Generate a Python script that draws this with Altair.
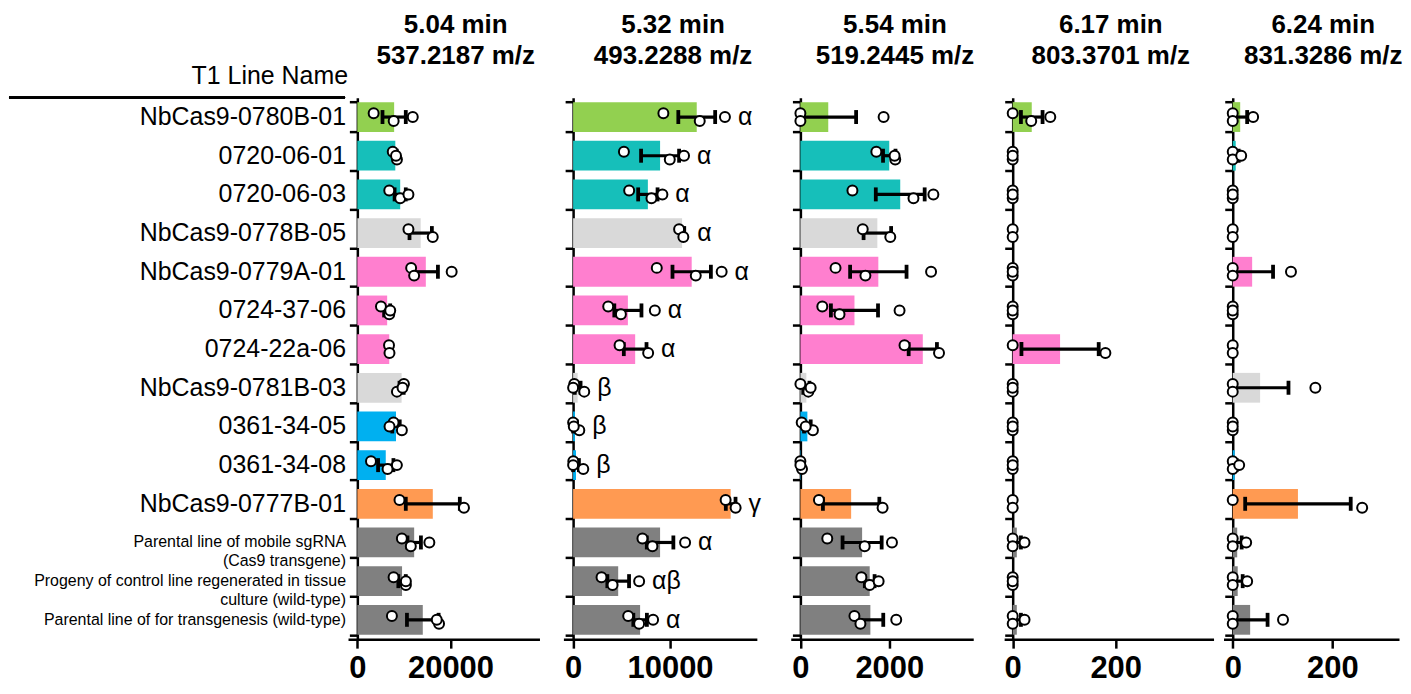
import altair as alt
import pandas as pd

FONT = "Liberation Sans, Arial, Helvetica, sans-serif"

# ---------------- data ----------------
lines = [
    "NbCas9-0780B-01", "0720-06-01", "0720-06-03", "NbCas9-0778B-05",
    "NbCas9-0779A-01", "0724-37-06", "0724-22a-06", "NbCas9-0781B-03",
    "0361-34-05", "0361-34-08", "NbCas9-0777B-01",
    "Parental line of mobile sgRNA\n(Cas9 transgene)",
    "Progeny of control line regenerated in tissue\nculture (wild-type)",
    "Parental line of for transgenesis (wild-type)",
]
groups = ["A", "B", "B", "C", "D", "D", "D", "C", "E", "E", "F", "G", "G", "G"]
group_ids = ["A", "B", "C", "D", "E", "F", "G"]
group_colors = ["#92D050", "#16BFBA", "#D9D9D9", "#FF7FCF", "#00B0F0", "#FF9A52", "#808080"]
desc_labels = lines[11:]

titles = [
    ["5.04 min", "537.2187 m/z"],
    ["5.32 min", "493.2288 m/z"],
    ["5.54 min", "519.2445 m/z"],
    ["6.17 min", "803.3701 m/z"],
    ["6.24 min", "831.3286 m/z"],
]

means1 = [7900, 8150, 9200, 13600, 14700, 6400, 6850, 9500, 8300, 6100, 16200, 12200, 9600, 14050]
sem1 = [2500, 300, 1200, 2400, 2600, 650, 150, 450, 800, 1650, 5800, 1450, 800, 3400]
pts1 = [[3500, 7800, 11900], [7600, 8500, 8300], [6850, 9200, 10970], [10970, 16190],
        [11550, 12190, 20250], [5070, 6850, 7060], [6800, 6900], [10000, 8500, 9700],
        [7780, 9560, 6910], [2930, 6490, 8490], [9050, 22890], [9560, 11480, 15460],
        [7780, 10420, 10420], [7420, 17540, 17050]]

means2 = [12750, 8970, 7710, 11240, 12230, 5650, 6400, 470, 190, 300, 16250, 8970, 4650, 6910]
sem2 = [1900, 1960, 1000, 220, 1980, 1400, 1170, 300, 200, 300, 500, 1370, 1120, 700]
pts2 = [[9310, 13060, 15660], [5240, 9970, 11440], [5780, 8080, 9210], [10930, 11370],
        [8630, 12650, 15320], [3620, 4930, 8430], [4790, 7740], [120, 1150, 0],
        [0, 640, 70], [20, 1050, 0], [15730, 16760], [7150, 8180, 11550],
        [2930, 4070, 6810], [5680, 6810, 8250]]
letters2 = ["α", "α", "α", "α", "α", "α", "α", "β", "β", "β", "γ", "α", "αβ", "α"]

means3 = [627, 2000, 2247, 1732, 1754, 1217, 2755, 134, 157, 10, 1142, 1389, 1560, 1575]
sem3 = [627, 140, 550, 310, 635, 530, 318, 70, 75, 12, 635, 440, 110, 290]
pts3 = [[0, 0, 1873], [1709, 2135, 2120], [1171, 2545, 2993], [1403, 2023],
        [791, 1463, 2941], [493, 881, 2232], [2343, 3120], [0, 179, 231],
        [29, 282, 119], [0, 36, 0], [417, 1850], [605, 1447, 2061],
        [1373, 1560, 1761], [1216, 1351, 2157]]

means4 = [37, 0, 0, 0, 0, 0, 92, 0, 0, 0, 0, 8, 0, 8]
sem4 = [21, 0, 0, 0, 0, 0, 75, 0, 0, 0, 0, 8, 0, 8]
pts4 = [[0, 36, 73], [0, 0, 0], [0, 0, 0], [0, 0], [0, 0, 0], [0, 0, 0], [0, 180],
        [0, 0, 0], [0, 0, 0], [0, 0, 0], [0, 0], [0, 0, 23], [0, 0, 0], [0, 0, 23]]

means5 = [15, 6, 0, 0, 39, 0, 0, 55, 0, 4, 131, 9, 10, 35]
sem5 = [14, 6, 0, 0, 42, 0, 0, 57, 0, 4, 106, 9, 10, 35]
pts5 = [[0, 0, 41], [0, 0, 17], [0, 0, 0], [0, 0], [0, 0, 117], [0, 0, 0], [0, 0],
        [0, 0, 166], [0, 0, 0], [0, 0, 13], [0, 260], [0, 0, 27], [0, 0, 29], [0, 0, 101]]

x_domains = [[-2000, 39100], [-1000, 18950], [-217, 3890], [-16.6, 390], [-18.5, 334]]
x_ticks = [[0, 20000], [0, 10000], [0, 2000], [0, 200], [0, 200]]

# ---------------- layout ----------------
H = 543
widths = [192, 194, 183, 210, 176]
title_dx = [12, 13, 13, 2, 12]
gaps = [24, 29, 28, 9]
LABEL_W = 340

ysc = alt.Scale(domain=lines, paddingInner=0.23, paddingOuter=0.115)
rep_band = {-1: 0.37, 0: 0.5, 1: 0.63}


def make_panel(k, means, sems, pts, letters=None):
    dmin, dmax = x_domains[k]
    w = widths[k]
    zero_px = -dmin / (dmax - dmin) * w
    xs = alt.Scale(domain=[dmin, dmax], nice=False, zero=False)

    rows = []
    prow = []
    for i, ln in enumerate(lines):
        vals = pts[i]
        hi = means[i] + sems[i]
        lo = max(means[i] - sems[i], 0)
        rows.append(dict(line=ln, group=groups[i], mean=means[i], sem=sems[i],
                         lo=lo, hi=hi, top=max([hi] + vals),
                         letter=letters[i] if letters else ""))
        codes = [-1, 1, 0] if len(vals) == 3 else [-1, 1]
        for v, c in zip(vals, codes):
            prow.append(dict(line=ln, value=v, rep=c))
    bdf = pd.DataFrame(rows)
    edf = bdf[bdf["sem"] > 0]
    pdf = pd.DataFrame(prow)

    yaxis = alt.Axis(offset=-zero_px, tickBand="extent", labels=False, title=None,
                     domainColor="black", domainWidth=2.5, tickColor="black",
                     tickWidth=2.5, tickSize=8, grid=False)
    xaxis = alt.Axis(values=x_ticks[k], format="d", title=None, grid=False,
                     labelFont=FONT, labelFontSize=31, labelFontWeight="bold",
                     labelColor="black", labelPadding=5, labelFlush=False,
                     labelOverlap=False, domainColor="black", domainWidth=2.5,
                     tickColor="black", tickWidth=2.5, tickSize=9)
    yenc = alt.Y("line:N", scale=ysc, axis=yaxis)

    bars = alt.Chart(bdf).mark_bar().encode(
        x=alt.X("mean:Q", scale=xs, axis=xaxis),
        x2=alt.datum(0),
        y=yenc,
        color=alt.Color("group:N", scale=alt.Scale(domain=group_ids, range=group_colors), legend=None),
    )
    err = alt.Chart(edf).mark_rule(strokeWidth=3.2, color="black").encode(
        x=alt.X("lo:Q", scale=xs), x2="hi:Q", y=yenc)
    cap_lo = alt.Chart(edf).mark_tick(thickness=3.8, size=14, color="black", opacity=1).encode(
        x=alt.X("lo:Q", scale=xs), y=yenc)
    cap_hi = alt.Chart(edf).mark_tick(thickness=3.8, size=14, color="black", opacity=1).encode(
        x=alt.X("hi:Q", scale=xs), y=yenc)
    layers = [bars, err, cap_lo, cap_hi]
    for code in [-1, 1, 0]:
        sub = pdf[pdf["rep"] == code]
        layers.append(
            alt.Chart(sub).mark_point(shape="circle", filled=True, fill="white",
                                      stroke="black", strokeWidth=2, size=100, opacity=1).encode(
                x=alt.X("value:Q", scale=xs),
                y=alt.Y("line:N", scale=ysc, axis=yaxis, bandPosition=rep_band[code]),
            )
        )
    if letters:
        txt = alt.Chart(bdf).mark_text(align="left", baseline="middle", dx=13,
                                       fontSize=25, font=FONT, color="black").encode(
            x=alt.X("top:Q", scale=xs), y=yenc, text="letter:N")
        layers.append(txt)
    return alt.layer(*layers).properties(
        width=w, height=H,
        title=alt.Title(titles[k], fontSize=26, fontWeight="bold", font=FONT,
                        lineHeight=31, anchor="middle", frame="group",
                        offset=29, dx=title_dx[k], color="black"),
    )


# label panel
ldf = pd.DataFrame({"line": lines,
                    "kind": ["desc" if l in desc_labels else "id" for l in lines]})
label_text = alt.Chart(ldf).mark_text(align="right", baseline="middle", lineBreak="\n",
                                      lineHeight=19, font=FONT, color="black").encode(
    x=alt.value(LABEL_W - 2),
    y=alt.Y("line:N", scale=ysc, axis=None),
    text="line:N",
    size=alt.Size("kind:N", scale=alt.Scale(domain=["id", "desc"], range=[25, 16]), legend=None),
)
label_rule = alt.Chart(ldf).mark_rule(color="black", strokeWidth=2).encode(
    x=alt.value(0), x2=alt.value(LABEL_W - 3), y=alt.value(0))
label_panel = alt.layer(label_rule, label_text).properties(
    width=LABEL_W, height=H,
    title=alt.Title("T1 Line Name", fontSize=25, fontWeight="normal", font=FONT,
                    anchor="end", frame="group", offset=8, color="black"),
)

p1 = make_panel(0, means1, sem1, pts1)
p2 = make_panel(1, means2, sem2, pts2, letters2)
p3 = make_panel(2, means3, sem3, pts3)
p4 = make_panel(3, means4, sem4, pts4)
p5 = make_panel(4, means5, sem5, pts5)

c = alt.hconcat(label_panel, p1, spacing=0)
c = alt.hconcat(c, p2, spacing=gaps[0])
c = alt.hconcat(c, p3, spacing=gaps[1])
c = alt.hconcat(c, p4, spacing=gaps[2])
chart = alt.hconcat(c, p5, spacing=gaps[3]).properties(
    padding={"top": 3, "left": 0, "right": 0, "bottom": 0}
).configure(font=FONT).configure_view(stroke=None)

chart.save("out.html", embed_options={"renderer": "svg", "actions": False})
